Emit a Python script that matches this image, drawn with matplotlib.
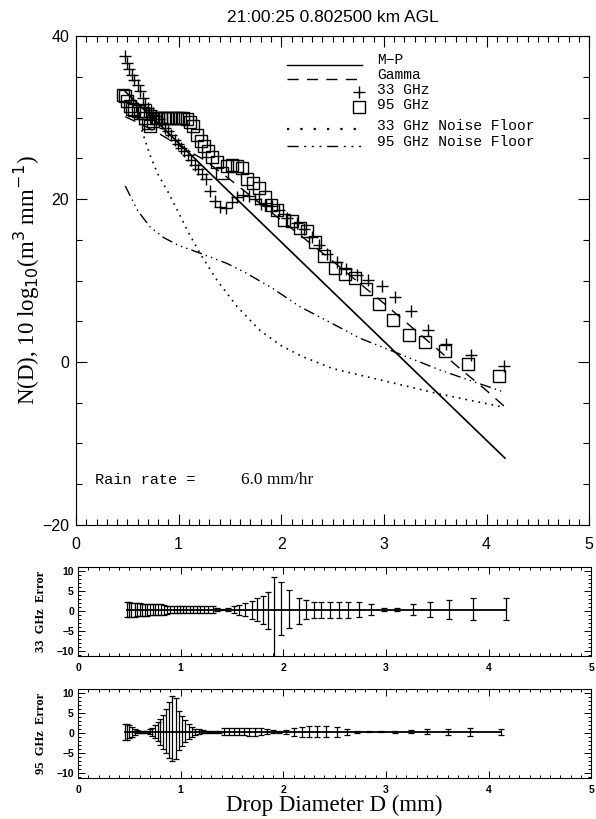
import numpy as np
import matplotlib
matplotlib.use("Agg")
import matplotlib.pyplot as plt
from matplotlib.ticker import MultipleLocator

# 33 GHz retrieval: drop diameter bins (mm) and N(D) (dB)
d33 = [0.48, 0.50, 0.52, 0.55, 0.57, 0.60, 0.62, 0.65, 0.67, 0.70,
       0.73, 0.75, 0.78, 0.81, 0.84, 0.87, 0.90, 0.93, 0.96, 0.99,
       1.02, 1.05, 1.09, 1.12, 1.16, 1.19, 1.23, 1.27, 1.31, 1.35,
       1.40, 1.46, 1.52, 1.57, 1.63, 1.69, 1.74, 1.80, 1.85, 1.91,
       1.98, 2.06, 2.15, 2.22, 2.30, 2.37, 2.45, 2.54, 2.63, 2.74,
       2.85, 2.98, 3.11, 3.26, 3.43, 3.61, 3.85, 4.17]
n33 = [37.5, 36.7, 36.0, 35.2, 34.6, 34.0, 33.2, 32.4, 31.6, 31.2,
       30.9, 30.6, 30.2, 29.8, 29.3, 28.7, 28.3, 27.8, 27.3, 26.7,
       26.2, 25.9, 25.4, 24.8, 24.2, 23.7, 23.1, 22.5, 21.0, 19.8,
       19.0, 18.9, 19.6, 20.2, 20.5, 20.4, 20.0, 19.4, 19.3, 19.1,
       18.6, 17.7, 17.0, 16.3, 15.4, 14.4, 13.3, 12.3, 11.4, 10.7,
       10.1, 9.3, 8.0, 6.2, 3.9, 2.2, 0.9, -0.5]
# error bar extents below / above the centre line
err33_lo = [1.8, 1.8, 1.7, 1.7, 1.6, 1.6, 1.5, 1.5, 1.5, 1.4,
            1.4, 1.4, 1.3, 1.3, 1.2, 1.0, 0.9, 0.8, 0.8, 0.8,
            0.8, 0.8, 0.8, 0.8, 0.8, 0.8, 0.8, 0.8, 0.8, 0.3,
            0.2, 0.3, 0.8, 1.2, 1.6, 2.2, 2.8, 3.5, 4.8, 11.8,
            6.2, 4.6, 3.5, 2.4, 2.0, 2.0, 2.0, 2.0, 2.0, 1.8,
            1.3, 0.3, 0.3, 1.3, 1.9, 2.4, 2.6, 2.6]
err33_hi = [1.8, 1.8, 1.7, 1.7, 1.6, 1.6, 1.5, 1.5, 1.5, 1.4,
            1.4, 1.4, 1.3, 1.3, 1.2, 1.0, 0.9, 0.8, 0.8, 0.8,
            0.8, 0.8, 0.8, 0.8, 0.8, 0.8, 0.8, 0.8, 0.8, 0.3,
            0.2, 0.3, 0.8, 1.2, 1.6, 2.2, 2.8, 3.5, 4.3, 8.2,
            6.8, 4.8, 2.9, 2.3, 2.0, 2.0, 2.0, 2.0, 2.0, 1.8,
            1.3, 0.3, 0.3, 1.3, 2.0, 2.5, 2.8, 2.8]

# 95 GHz retrieval
d95 = [0.46, 0.48, 0.50, 0.53, 0.55, 0.57, 0.60, 0.62, 0.65, 0.67,
       0.70, 0.72, 0.75, 0.78, 0.80, 0.83, 0.86, 0.89, 0.92, 0.95,
       0.98, 1.01, 1.04, 1.08, 1.11, 1.14, 1.18, 1.22, 1.25, 1.29,
       1.33, 1.37, 1.42, 1.47, 1.52, 1.57, 1.62, 1.67, 1.72, 1.78,
       1.84, 1.90, 1.96, 2.03, 2.10, 2.18, 2.25, 2.33, 2.42, 2.52,
       2.62, 2.72, 2.83, 2.95, 3.09, 3.24, 3.40, 3.60, 3.82, 4.12]
n95 = [32.8, 32.6, 32.0, 31.4, 31.1, 30.9, 30.8, 30.6, 30.5, 30.0,
       29.3, 29.0, 29.6, 30.0, 30.0, 29.9, 29.9, 29.9, 29.9, 29.9,
       29.9, 29.9, 29.9, 29.8, 29.5, 28.9, 27.9, 27.1, 26.5, 25.9,
       25.2, 24.5, 23.2, 24.0, 24.2, 24.1, 23.8, 22.5, 22.0, 21.3,
       20.3, 19.3, 18.7, 17.4, 17.3, 16.5, 16.1, 14.7, 13.0, 11.5,
       10.8, 10.3, 9.0, 7.1, 5.2, 3.3, 2.5, 1.3, -0.3, -1.7]
err95_lo = [2.0, 2.0, 1.6, 1.2, 0.8, 0.4, 0.3, 0.3, 0.3, 0.3,
            0.6, 1.0, 1.6, 2.4, 3.2, 4.2, 5.3, 6.5, 7.3, 6.8,
            4.6, 3.5, 2.6, 1.8, 1.2, 0.8, 0.6, 0.4, 0.3, 0.3,
            0.3, 0.3, 0.9, 0.9, 0.9, 0.9, 0.9, 1.0, 1.0, 0.9,
            0.6, 0.4, 0.2, 0.5, 1.0, 1.2, 1.3, 1.3, 1.3, 1.2,
            0.8, 0.2, 0.1, 0.1, 0.2, 0.4, 0.6, 0.8, 1.0, 0.8]
err95_hi = [2.0, 2.0, 1.6, 1.2, 0.8, 0.4, 0.3, 0.3, 0.3, 0.3,
            0.6, 1.0, 1.6, 2.4, 3.2, 4.2, 5.7, 7.5, 8.8, 8.3,
            5.2, 4.0, 3.0, 1.8, 1.2, 0.8, 0.6, 0.4, 0.3, 0.3,
            0.3, 0.3, 0.9, 0.9, 0.9, 0.9, 0.9, 1.0, 1.0, 0.9,
            0.6, 0.4, 0.2, 0.5, 1.0, 1.2, 1.3, 1.3, 1.3, 1.2,
            0.8, 0.2, 0.1, 0.1, 0.2, 0.4, 0.6, 0.8, 1.0, 0.8]
err_center = 0.3

# model curves
mp_d = [0.48, 4.18]
mp_n = [33.2, -11.8]
gamma_d = [0.48, 0.6, 0.8, 1.0, 1.25, 1.5, 1.75, 2.0, 2.25, 2.5,
           2.75, 3.0, 3.25, 3.5, 3.75, 4.0, 4.17]
gamma_n = [30.1, 29.4, 28.1, 26.6, 24.8, 22.4, 19.9, 17.4, 14.9, 12.4,
           9.8, 7.2, 4.5, 1.8, -0.9, -3.5, -5.4]
nf33_d = [0.6, 0.64, 0.72, 0.8, 0.9, 1.0, 1.1, 1.21, 1.37, 1.57,
          1.79, 2.0, 2.2, 2.5, 2.83, 3.2, 3.5, 3.8, 4.15]
nf33_n = [30.0, 28.5, 25.4, 23.0, 20.8, 18.3, 15.8, 13.3, 10.1, 6.8,
          3.9, 2.0, 0.7, -0.8, -1.8, -2.9, -3.8, -4.6, -5.5]
nf95_d = [0.48, 0.6, 0.72, 0.85, 1.0, 1.2, 1.47, 1.66, 1.92, 2.18,
          2.5, 2.77, 3.13, 3.55, 3.87, 4.15]
nf95_n = [21.6, 18.6, 16.6, 15.3, 14.3, 13.4, 12.1, 10.9, 9.0, 6.8,
          4.7, 2.9, 1.1, -1.0, -2.4, -3.6]

title = "21:00:25 0.802500 km AGL"
rain_rate = "6.0 mm/hr"

sans = "Liberation Sans"
serif = "Liberation Serif"
mono = "Liberation Mono"
dots = (0, (1, 3))
dashdot3 = (0, (8, 3, 1, 3, 1, 3, 1, 3))
gdash = (0, (8, 6))

fig = plt.figure(figsize=(5.96, 8.19), dpi=100)

# ---- main panel
ax = fig.add_axes([0.1275, 0.359, 0.861, 0.597])
ax.plot(mp_d, mp_n, color="black", lw=1.2)
ax.plot(gamma_d, gamma_n, color="black", lw=1.0, linestyle=gdash)
ax.plot(nf33_d, nf33_n, color="black", lw=1.2, linestyle=dots)
ax.plot(nf95_d, nf95_n, color="black", lw=1.0, linestyle=dashdot3)
ax.plot(d33, n33, linestyle="none", marker="+", ms=9, mew=1.0, color="black")
ax.plot(d95, n95, linestyle="none", marker="s", ms=8.5, mew=1.0,
        mfc="none", mec="black")

ax.set_xlim(0, 5)
ax.set_ylim(-20, 40)
ax.xaxis.set_major_locator(MultipleLocator(1))
ax.xaxis.set_minor_locator(MultipleLocator(0.1))
ax.yaxis.set_major_locator(MultipleLocator(20))
ax.yaxis.set_minor_locator(MultipleLocator(5))
ax.tick_params(which="both", direction="in", top=True, right=True,
               labelsize=11.5, width=0.8)
ax.tick_params(which="major", length=8, pad=9)
ax.tick_params(which="minor", length=4)
ax.tick_params(axis="y", pad=5)
for lab in ax.get_xticklabels() + ax.get_yticklabels():
    lab.set_family(sans)
ax.set_title(title, fontsize=12.5, family=sans, pad=10)
ax.set_ylabel("N(D), 10 log$_{10}$(m$^3$ mm$^{-1}$)", fontsize=16.5,
              family=serif, labelpad=0)

# legend drawn by hand, IDL style (text y, symbol y in axes fraction)
tr = ax.transAxes
rows = [("M\u2212P", 0.951, 0.941), ("Gamma", 0.920, 0.912),
        ("33 GHz", 0.890, 0.885), ("95 GHz", 0.859, 0.855),
        ("33 GHz Noise Floor", 0.816, 0.810),
        ("95 GHz Noise Floor", 0.783, 0.775)]
ax.plot([0.411, 0.557], [rows[0][2]] * 2, transform=tr, color="black", lw=1.0)
ax.plot([0.411, 0.557], [rows[1][2]] * 2, transform=tr, color="black", lw=1.0,
        linestyle=gdash)
ax.plot([0.552], [rows[2][2]], transform=tr, marker="+", ms=9, color="black",
        linestyle="none")
ax.plot([0.552], [rows[3][2]], transform=tr, marker="s", ms=8.5, mfc="none",
        mec="black", linestyle="none")
ax.plot([0.411, 0.557], [rows[4][2]] * 2, transform=tr, color="black", lw=1.6,
        linestyle=(0, (1, 5)))
ax.plot([0.411, 0.557], [rows[5][2]] * 2, transform=tr, color="black", lw=1.0,
        linestyle=(0, (8, 4, 1.5, 4, 1.5, 4, 1.5, 4)))
for label, ty, _ in rows:
    ax.text(0.587, ty, label, transform=tr, family=mono, fontsize=10.5,
            va="center", ha="left")

ax.text(0.037, 0.092, "Rain rate =", transform=tr, family=mono, fontsize=11,
        va="center")
ax.text(0.322, 0.092, rain_rate, transform=tr, family=serif, fontsize=12.5,
        va="center")


# ---- error panels
def error_panel(rect, d, lo, hi, ylabel, xlabel=None):
    e = fig.add_axes(rect)
    e.errorbar(d, [err_center] * len(d), yerr=[lo, hi], fmt="none",
               ecolor="black", elinewidth=0.9, capsize=2.5, capthick=0.9)
    e.plot([d[0], d[-1]], [err_center, err_center], color="black", lw=1.3)
    e.set_xlim(0, 5)
    e.set_ylim(-11.2, 10.9)
    e.xaxis.set_major_locator(MultipleLocator(1))
    e.xaxis.set_minor_locator(MultipleLocator(0.1))
    e.yaxis.set_major_locator(MultipleLocator(5))
    e.yaxis.set_minor_locator(MultipleLocator(1))
    e.tick_params(which="both", direction="in", top=True, right=True,
                  labelsize=7.5, width=0.7)
    e.tick_params(which="major", length=5, pad=5)
    e.tick_params(which="minor", length=2.5)
    e.tick_params(axis="y", pad=3)
    for lab in e.get_xticklabels() + e.get_yticklabels():
        lab.set_family(sans)
        lab.set_fontweight("bold")
    e.set_ylabel(ylabel, family=serif, fontweight="bold", fontsize=9,
                 labelpad=7)
    if xlabel:
        e.set_xlabel(xlabel, family=serif, fontsize=16.5, labelpad=0)
    return e


error_panel([0.131, 0.199, 0.861, 0.1087], d33, err33_lo, err33_hi,
            "33  GHz  Error")
error_panel([0.131, 0.050, 0.861, 0.1087], d95, err95_lo, err95_hi,
            "95  GHz  Error", "Drop Diameter D (mm)")

fig.savefig("out.png", dpi=100)
